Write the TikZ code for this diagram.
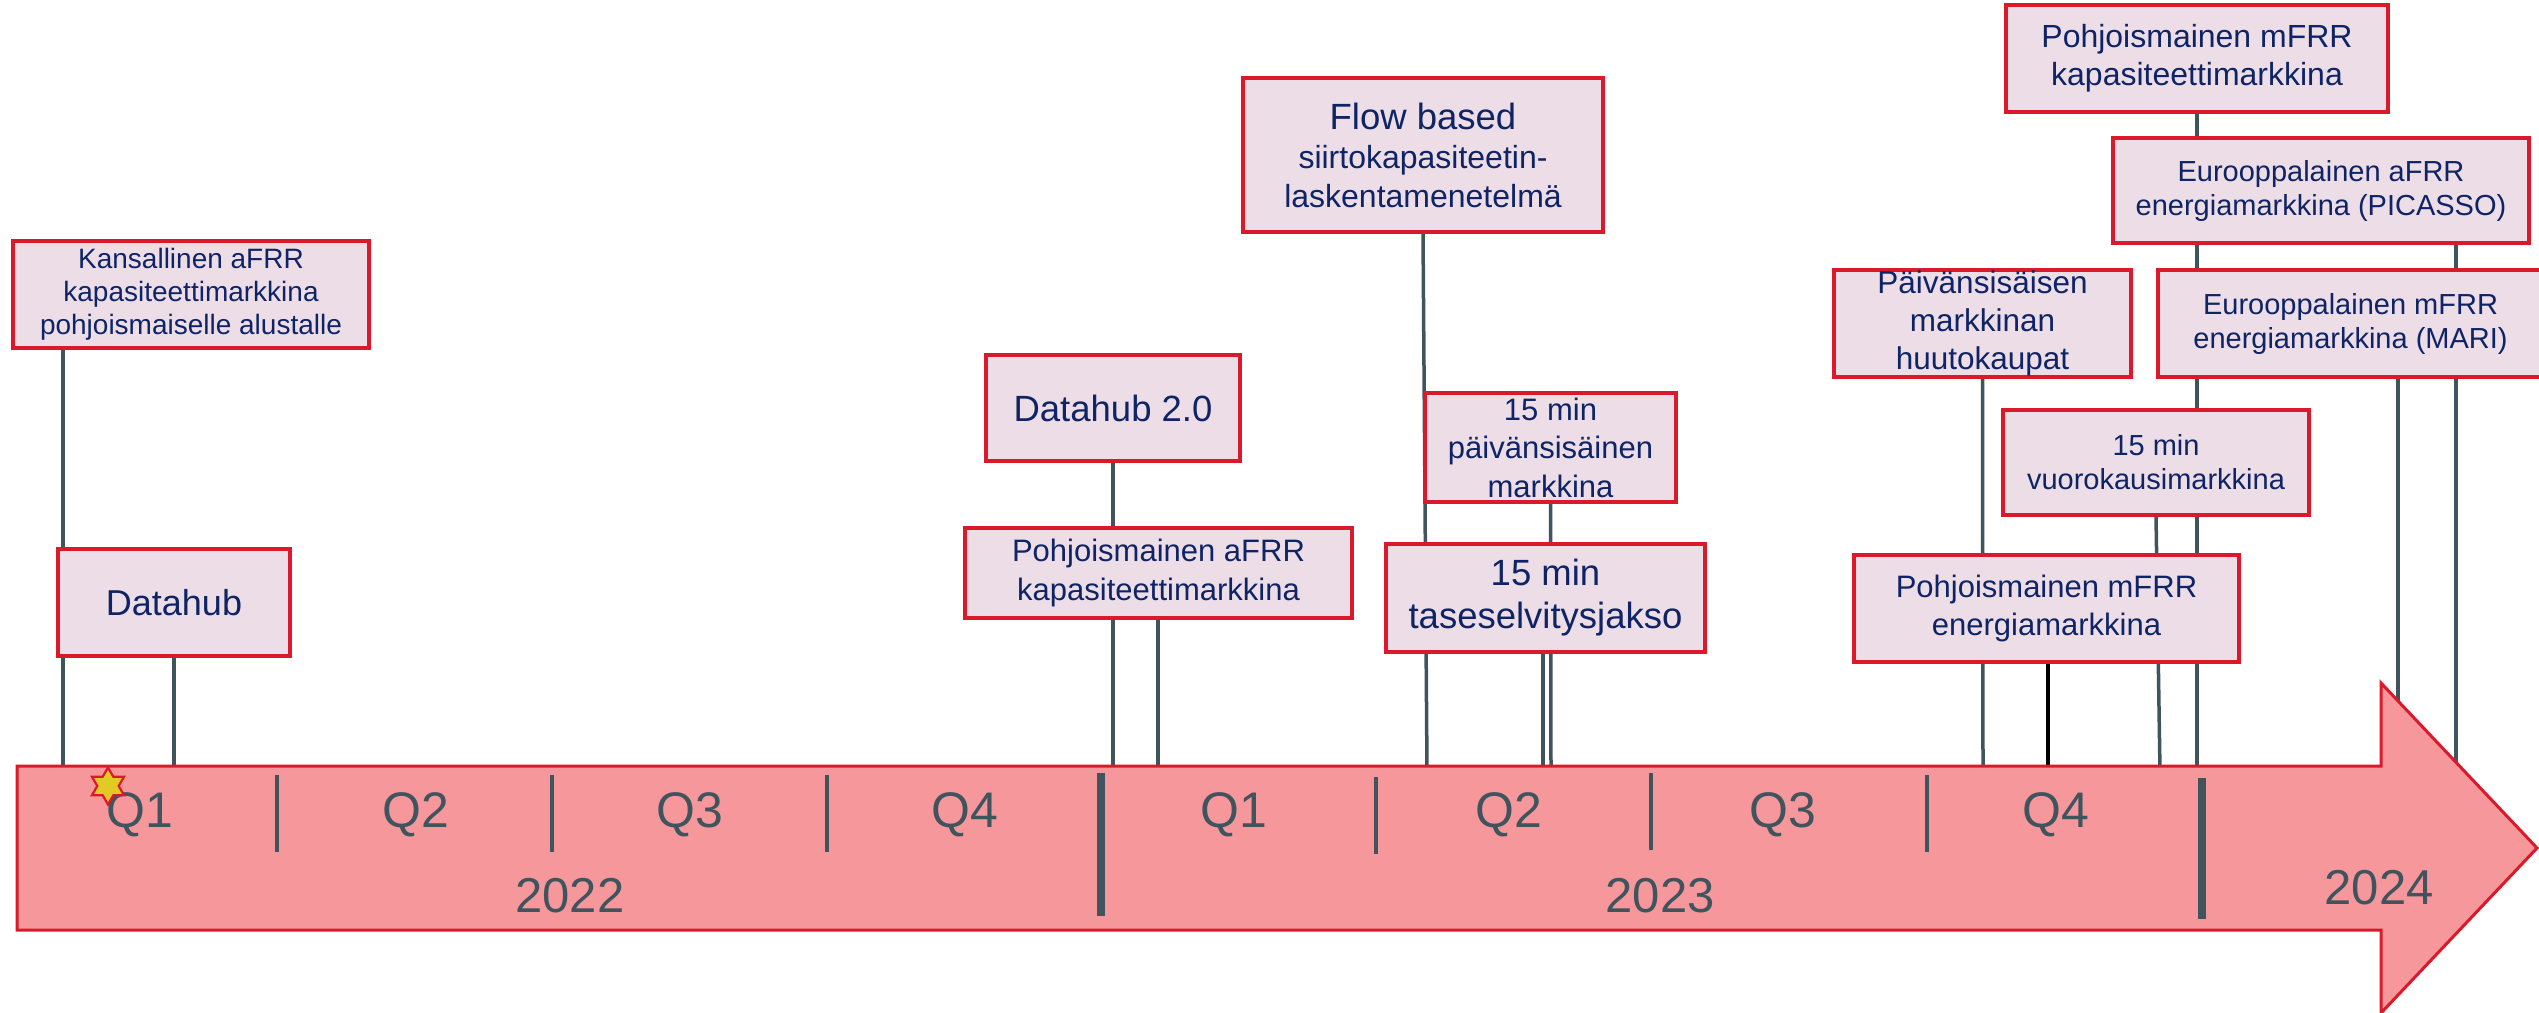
\documentclass[tikz,border=0pt]{standalone}
\usepackage{fontspec}
\setmainfont{Liberation Sans}
\usetikzlibrary{shapes.geometric}
\definecolor{navy}{RGB}{14,36,102}
\definecolor{slate}{RGB}{64,84,94}
\definecolor{boxred}{RGB}{218,26,42}
\definecolor{boxfill}{RGB}{237,221,230}
\definecolor{arrowfill}{RGB}{246,151,156}
\definecolor{staryellow}{RGB}{226,202,36}
\pgfdeclarelayer{bg}
\pgfsetlayers{bg,main}
\newcommand\myfs[2]{\fontsize{#1}{#2}\selectfont}
\begin{document}
\begin{tikzpicture}[x=1pt,y=-1pt,
  box/.style={draw=boxred, line width=3.2pt, fill=boxfill, text=navy, inner sep=0pt, align=center},
  conn/.style={draw=slate, line width=3.5pt},
  qlab/.style={text=slate, inner sep=0pt, anchor=base, font=\myfs{50}{60}},
  ylab/.style={text=slate, inner sep=0pt, anchor=base, font=\myfs{49}{59}},
  qtick/.style={draw=slate, line width=4pt},
  ytick/.style={draw=slate, line width=8.5pt}]
\useasboundingbox (0,0) rectangle (2539,1012);

% timeline arrow
\filldraw[fill=arrowfill, draw=boxred, line width=3pt, line join=miter]
  (17,766) -- (2381,766) -- (2381,683) -- (2537,848) -- (2381,1013) -- (2381,930) -- (17,930) -- cycle;

% quarter ticks and year dividers
\draw[qtick] (277,775) -- (277,852);
\draw[qtick] (552,775) -- (552,852);
\draw[qtick] (827,775) -- (827,852);
\draw[qtick] (1376,777) -- (1376,854);
\draw[qtick] (1651,773) -- (1651,850);
\draw[qtick] (1927,775) -- (1927,852);
\draw[ytick] (1101,773) -- (1101,916);
\draw[ytick] (2202,778) -- (2202,919);

% quarter labels
\node[qlab] (qa1) at (140,827) {Q1};
\node[qlab] (qa2) at (416,827) {Q2};
\node[qlab] (qa3) at (690,827) {Q3};
\node[qlab] (qa4) at (965,827) {Q4};
\node[qlab] (qb1) at (1234,827) {Q1};
\node[qlab] (qb2) at (1509,827) {Q2};
\node[qlab] (qb3) at (1783,827) {Q3};
\node[qlab] (qb4) at (2056,827) {Q4};
\node[ylab] (y22) at (570,912) {2022};
\node[ylab] (y23) at (1660,912) {2023};
\node[ylab] (y24) at (2379,904) {2024};

% star
\node[star, star points=6, star point ratio=1.73, minimum size=37pt, inner sep=0pt,
      fill=staryellow, draw=boxred, line width=2.2pt] (star) at (108,786) {};

% boxes
\node[box, minimum width=356pt, minimum height=107pt, font=\myfs{28}{33}] (kans) at (191,294.5)
  {Kansallinen aFRR\\kapasiteettimarkkina\\pohjoismaiselle alustalle};
\node[box, minimum width=232pt, minimum height=107pt, font=\myfs{36}{43}] (dh) at (174,602.5) {Datahub};
\node[box, minimum width=254pt, minimum height=106pt, font=\myfs{36.5}{43}] (dhb) at (1113,408) {Datahub 2.0};
\node[box, minimum width=387pt, minimum height=90pt, font=\myfs{31}{39}] (pafrr) at (1158.5,573)
  {Pohjoismainen aFRR\\kapasiteettimarkkina};
\node[box, minimum width=360pt, minimum height=154pt, font=\myfs{32}{39}] (flow) at (1423,155)
  {{\myfs{36.5}{39}Flow based}\\siirtokapasiteetin-\\laskentamenetelmä};
\node[box, minimum width=251pt, minimum height=109pt, font=\myfs{31}{38.5}] (pfif) at (1550.5,447.5)
  {15 min\\päivänsisäinen\\markkina};
\node[box, minimum width=319pt, minimum height=108pt, font=\myfs{36.5}{43}] (tase) at (1545.5,598)
  {15 min\\taseselvitysjakso};
\node[box, minimum width=297pt, minimum height=107pt, font=\myfs{31.5}{38}] (huuto) at (1982.5,323.5)
  {Päivänsisäisen\\markkinan\\huutokaupat};
\node[box, minimum width=382pt, minimum height=107pt, font=\myfs{32}{38}] (mkap) at (2197,58.5)
  {Pohjoismainen mFRR\\kapasiteettimarkkina};
\node[box, minimum width=416pt, minimum height=105pt, font=\myfs{29}{34}] (pic) at (2321,190.5)
  {Eurooppalainen aFRR\\energiamarkkina (PICASSO)};
\node[box, minimum width=385pt, minimum height=107pt, font=\myfs{29}{34}] (mari) at (2350.5,323.5)
  {Eurooppalainen mFRR\\energiamarkkina (MARI)};
\node[box, minimum width=306pt, minimum height=105pt, font=\myfs{29}{34}] (vuoro) at (2156,462.5)
  {15 min\\vuorokausimarkkina};
\node[box, minimum width=385pt, minimum height=107pt, font=\myfs{31}{37.5}] (pmfrr) at (2046.5,608.5)
  {Pohjoismainen mFRR\\energiamarkkina};

% connector end points on the timeline
\coordinate (tkans) at (63,772);
\coordinate (tdh) at (174,772);
\coordinate (tdhb) at (1113,772);
\coordinate (tpafrr) at (1158,772);
\coordinate (tflow) at (1427,772);
\coordinate (tpfif) at (1551,772);
\coordinate (ttase) at (1543,772);
\coordinate (thuuto) at (1983,772);
\coordinate (tmkap) at (2197,772);
\coordinate (tpic) at (2456,772);
\coordinate (tmari) at (2398,714);
\coordinate (tvuoro) at (2160,772);
\coordinate (tpmfrr) at (2048,772);

\begin{pgfonlayer}{bg}
\draw[conn] (kans.south -| tkans) -- (tkans);
\draw[conn] (dh.south) -- (tdh);
\draw[conn] (dhb.south) -- (tdhb);
\draw[conn] (pafrr.south -| tpafrr) -- (tpafrr);
\draw[conn] (flow.south) -- (tflow);
\draw[conn] (pfif.south) -- (tpfif);
\draw[conn] (tase.south -| ttase) -- (ttase);
\draw[conn] (huuto.south) -- (thuuto);
\draw[conn] (mkap.south) -- (tmkap);
\draw[conn] (pic.south -| tpic) -- (tpic);
\draw[conn] (mari.south -| tmari) -- (tmari);
\draw[conn] (vuoro.south) -- (tvuoro);
\draw[conn, draw=black] (pmfrr.south -| tpmfrr) -- (tpmfrr);
\end{pgfonlayer}
\end{tikzpicture}
\end{document}
